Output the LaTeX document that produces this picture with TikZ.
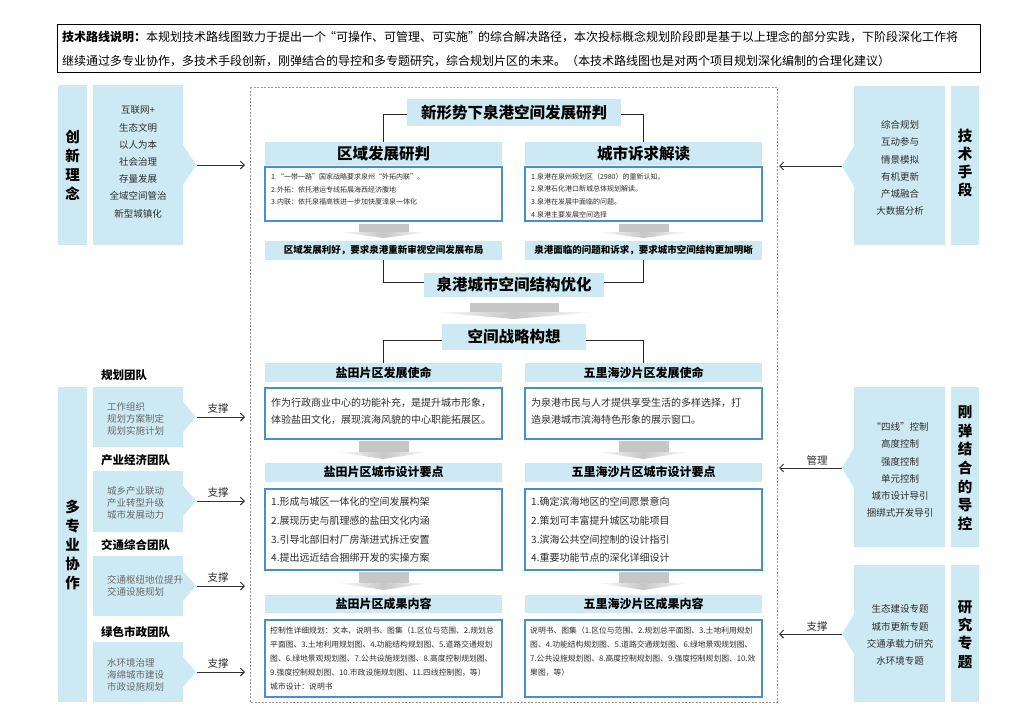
\documentclass[tikz,border=0pt]{standalone}
\usepackage{fontspec}
\setmainfont{Noto Sans CJK SC}
\usetikzlibrary{arrows.meta}
\definecolor{lblue}{RGB}{205,234,244}
\definecolor{bblue}{RGB}{72,142,212}
\definecolor{agray}{RGB}{198,198,198}
\definecolor{fgray}{RGB}{150,150,150}
\definecolor{tdark}{RGB}{45,45,45}
\definecolor{tgray}{RGB}{105,105,105}
\begin{document}
\begin{tikzpicture}[x=1pt,y=-1pt,
  hdr/.style={fill=lblue, minimum width=237pt, inner sep=0pt, text=black, font=\fontsize{12}{12}\selectfont\bfseries},
  bighdr/.style={hdr, font=\fontsize{15.5}{16}\selectfont\bfseries},
  banner/.style={hdr, font=\fontsize{9.5}{10}\selectfont\bfseries},
  cbox/.style={draw=bblue, line width=1.1pt, fill=white, minimum width=237pt, inner sep=0pt},
  smalltxt/.style={anchor=west, align=left, inner sep=0pt, text=tdark, font=\fontsize{7}{12.7}\selectfont},
  midtxt/.style={anchor=west, align=left, inner sep=0pt, text=tdark, font=\fontsize{10}{17}\selectfont},
  listtxt/.style={anchor=west, align=left, inner sep=0pt, text=tdark, font=\fontsize{10}{18.7}\selectfont},
  restxt/.style={anchor=west, align=left, inner sep=0pt, text=tdark, font=\fontsize{7.8}{14}\selectfont},
  conn/.style={draw=black!85, line width=0.8pt},
  link/.style={draw=black!80, line width=0.9pt, -{Straight Barb[length=4pt,width=8pt]}},
  vtitle/.style={align=center, inner sep=0pt, text=black, font=\fontsize{14.5}{19}\selectfont\bfseries},
  items/.style={align=center, inner sep=0pt, text=tdark, font=\fontsize{9.5}{17.2}\selectfont},
  teamtxt/.style={anchor=west, align=left, inner sep=0pt, text=tgray, font=\fontsize{9.5}{12.3}\selectfont},
  teamlbl/.style={anchor=west, inner sep=0pt, text=black, font=\fontsize{11.5}{12}\selectfont\bfseries},
  lnklbl/.style={inner sep=0pt, text=tdark, font=\fontsize{10.5}{11}\selectfont},
  sarrow/.pic={
    \fill[agray] (-25,0) rectangle (25,8);
    \shade[left color=white, right color=white, middle color=agray] (-46,8) -- (46,8) -- (0,14) -- cycle;},
  marrow/.pic={
    \fill[agray] (-25,0) rectangle (25,11);
    \shade[left color=white, right color=white, middle color=agray] (-46,11) -- (46,11) -- (0,18) -- cycle;},
  barrow/.pic={
    \fill[agray] (-44.5,0) rectangle (44.5,9);
    \shade[left color=white, right color=white, middle color=agray] (-82,9) -- (82,9) -- (0,16) -- cycle;}
]
\useasboundingbox (0,0) rectangle (1024,724);
\fill[white] (0,0) rectangle (1024,724);

% ---------- top note ----------
\node[draw=black, line width=0.8pt, minimum width=923pt, minimum height=48pt, inner sep=0pt] (note) at (518.5,48) {};
\node[anchor=west, inner sep=0pt, font=\fontsize{12}{12}\selectfont] (note1) at (62,37)
  {{\bfseries 技术路线说明：}本规划技术路线图致力于提出一个\makebox[10pt][r]{“}可操作、可管理、可实施\makebox[10pt][l]{”}的综合解决路径，本次投标概念规划阶段即是基于以上理念的部分实践，下阶段深化工作将};
\node[anchor=west, inner sep=0pt, font=\fontsize{12}{12}\selectfont] (note2) at (62,61)
  {继续通过多专业协作，多技术手段创新，刚弹结合的导控和多专题研究，综合规划片区的未来。（本技术路线图也是对两个项目规划深化编制的合理化建议）};

% ---------- center frame ----------
\draw[fgray, line width=0.7pt, dash pattern=on 2pt off 1.5pt] (250,87) rectangle (777,702);

\node[bighdr, minimum width=214pt, minimum height=27pt] (title) at (514,112.5) {新形势下泉港空间发展研判};
\node[bighdr, minimum height=23pt] (hA) at (383.5,153.5) {区域发展研判};
\node[bighdr, minimum height=23pt] (hB) at (643.5,153.5) {城市诉求解读};
\node[cbox, minimum height=54pt] (bA) at (383.5,194) {};
\node[cbox, minimum height=54pt] (bB) at (643.5,194) {};
\node[smalltxt] (tA) at (271,189.5) {1.“一带一路”国家战略要求泉州“外拓内联”。\\2.外拓：依托港运专线拓展海西经济腹地\\3.内联：依托泉福高铁进一步加快厦漳泉一体化};
\node[smalltxt] (tB) at (531,195.5) {1.泉港在泉州规划区（2980）的重新认知。\\2.泉港石化港口新城总体规划解读。\\3.泉港在发展中面临的问题。\\4.泉港主要发展空间选择};
\pic at (383.5,224) {sarrow};
\pic at (643.5,224) {sarrow};
\node[banner, minimum height=19pt] (nA) at (383.5,250.5) {区域发展利好，要求泉港重新审视空间发展布局};
\node[banner, minimum height=19pt] (nB) at (643.5,250.5) {泉港面临的问题和诉求，要求城市空间结构更加明晰};
\node[bighdr, minimum width=180pt, minimum height=24pt] (opt) at (514,285) {泉港城市空间结构优化};
\pic at (514,303) {barrow};
\node[bighdr, minimum width=144pt, minimum height=26pt] (strat) at (514,337) {空间战略构想};

\draw[conn] ([yshift=-1.5pt]title.west) -| (hA.north);
\draw[conn] ([yshift=-1.5pt]title.east) -| (hB.north);
\draw[conn] (nA.south) |- ([yshift=3pt]opt.west);
\draw[conn] (nB.south) |- ([yshift=3pt]opt.east);

\node[hdr, minimum height=19pt] (mA) at (383.5,372.5) {盐田片区发展使命};
\node[hdr, minimum height=19pt] (mB) at (643.5,372.5) {五里海沙片区发展使命};
\draw[conn] ([yshift=-3pt]strat.west) -| (mA.north);
\draw[conn] ([yshift=-3pt]strat.east) -| (mB.north);
\node[cbox, minimum height=51pt] (mbA) at (383.5,413.5) {};
\node[cbox, minimum height=51pt] (mbB) at (643.5,413.5) {};
\node[midtxt] (mtA) at (271,411.5) {作为行政商业中心的功能补充，是提升城市形象，\\体验盐田文化，展现滨海风貌的中心职能拓展区。};
\node[midtxt] (mtB) at (531,411.5) {为泉港市民与人才提供享受生活的多样选择，打\\造泉港城市滨海特色形象的展示窗口。};
\pic at (383.5,441) {marrow};
\pic at (643.5,441) {marrow};

\node[hdr, minimum height=19pt] (dA) at (383.5,472) {盐田片区城市设计要点};
\node[hdr, minimum height=19pt] (dB) at (643.5,472) {五里海沙片区城市设计要点};
\node[cbox, minimum height=81pt] (dbA) at (383.5,529.5) {};
\node[cbox, minimum height=81pt] (dbB) at (643.5,529.5) {};
\node[listtxt] (dtA) at (271,530) {1.形成与城区一体化的空间发展构架\\2.展现历史与肌理感的盐田文化内涵\\3.引导北部旧村厂房渐进式拆迁安置\\4.提出远近结合捆绑开发的实操方案};
\node[listtxt] (dtB) at (531,530) {1.确定滨海地区的空间愿景意向\\2.策划可丰富提升城区功能项目\\3.滨海公共空间控制的设计指引\\4.重要功能节点的深化详细设计};
\pic at (383.5,572) {marrow};
\pic at (643.5,572) {marrow};

\node[hdr, minimum height=18pt] (rA) at (383.5,604) {盐田片区成果内容};
\node[hdr, minimum height=18pt] (rB) at (643.5,604) {五里海沙片区成果内容};
\node[cbox, minimum height=77pt] (rbA) at (383.5,658.5) {};
\node[cbox, minimum height=77pt] (rbB) at (643.5,658.5) {};
\node[restxt] (rtA) at (270,658.5) {控制性详细规划：文本、说明书、图集（1.区位与范围、2.规划总\\平面图、3.土地利用规划图、4.功能结构规划图、5.道路交通规划\\图、6.绿地景观规划图、7.公共设施规划图、8.高度控制规划图、\\9.强度控制规划图、10.市政设施规划图、11.四线控制图，等）\\城市设计：说明书};
\node[restxt] (rtB) at (530,651.5) {说明书、图集（1.区位与范围、2.规划总平面图、3.土地利用规划\\图、4.功能结构规划图、5.道路交通规划图、6.绿地景观规划图、\\7.公共设施规划图、8.高度控制规划图、9.强度控制规划图、10.效\\果图，等）};

% ---------- left column ----------
\fill[lblue] (58,85) rectangle (87,245);
\node[vtitle] (cxv) at (72.5,165) {创\\新\\理\\念};
\fill[lblue] (93,85) -- (183,85) -- (183,145) -- (196,165) -- (183,185) -- (183,245) -- (93,245) -- cycle;
\node[items] (cxi) at (138,162) {互联网+\\生态文明\\以人为本\\社会治理\\存量发展\\全域空间管治\\新型城镇化};
\coordinate (cxt) at (197,165);
\coordinate (cxe) at (245,165);
\draw[link] (cxt) -- (cxe);

\fill[lblue] (58,387) rectangle (87,702);
\node[vtitle] (dzv) at (72.5,545) {多\\专\\业\\协\\作};

\foreach \ya/\yb/\yt/\nm in {387/447/417/a, 471/532/501/b, 556/616/586/c, 642/702/672/d}{
  \fill[lblue] (93,\ya) -- (183,\ya) -- (183,\yt-15) -- (196,\yt) -- (183,\yt+15) -- (183,\yb) -- (93,\yb) -- cycle;
  \coordinate (tt\nm) at (197,\yt);
  \coordinate (te\nm) at (245,\yt);
  \draw[link] (tt\nm) -- (te\nm);
  \node[lnklbl] (tl\nm) at (218,\yt-9) {支撑};
}
\node[teamlbl] (la) at (101,375) {规划团队};
\node[teamlbl] (lb) at (101,460) {产业经济团队};
\node[teamlbl] (lc) at (101,545) {交通综合团队};
\node[teamlbl] (ld) at (101,632) {绿色市政团队};
\node[teamtxt] (xa) at (107,419) {工作组织\\规划方案制定\\规划实施计划};
\node[teamtxt] (xb) at (107,503) {城乡产业联动\\产业转型升级\\城市发展动力};
\node[teamtxt] (xc) at (107,586) {交通枢纽地位提升\\交通设施规划};
\node[teamtxt] (xd) at (107,675) {水环境治理\\海绵城市建设\\市政设施规划};

% ---------- right column ----------
\foreach \ya/\yb/\yt/\nm in {86/245/166/a, 387/547/468/b, 565/702/634/c}{
  \fill[lblue] (854,\ya) -- (945,\ya) -- (945,\yb) -- (854,\yb) -- (854,\yt+20) -- (842,\yt) -- (854,\yt-20) -- cycle;
  \fill[lblue] (951,\ya) rectangle (979,\yb);
  \coordinate (rt\nm) at (842,\yt);
  \coordinate (re\nm) at (779,\yt);
  \draw[link] (rt\nm) -- (re\nm);
}
\node[lnklbl] (rlb) at (817,460) {管理};
\node[lnklbl] (rlc) at (817,626) {支撑};
\node[vtitle, font=\fontsize{14.5}{18}\selectfont\bfseries] (jsv) at (965,163) {技\\术\\手\\段};
\node[vtitle, font=\fontsize{14.5}{18.7}\selectfont\bfseries] (gtv) at (965,468) {刚\\弹\\结\\合\\的\\导\\控};
\node[vtitle, font=\fontsize{14.5}{18.3}\selectfont\bfseries] (yjv) at (965,634.5) {研\\究\\专\\题};
\node[items] (jsi) at (900,168) {综合规划\\互动参与\\情景模拟\\有机更新\\产城融合\\大数据分析};
\node[items] (gti) at (900,470) {“四线”控制\\高度控制\\强度控制\\单元控制\\城市设计导引\\捆绑式开发导引};
\node[items] (yji) at (900,635) {生态建设专题\\城市更新专题\\交通承载力研究\\水环境专题};
\end{tikzpicture}
\end{document}
